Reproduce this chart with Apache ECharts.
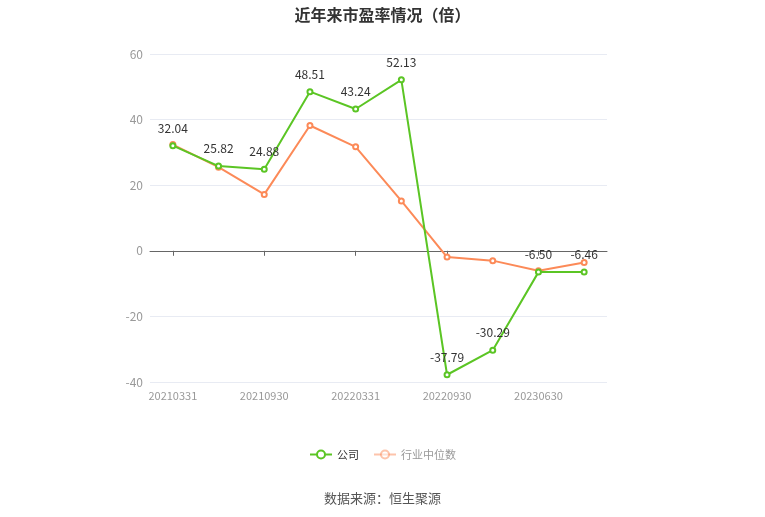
<!DOCTYPE html>
<html>
<head>
<meta charset="utf-8">
<script src="https://cdn.jsdelivr.net/npm/echarts@6/dist/echarts.min.js"></script>
<style>
  html, body { margin: 0; padding: 0; background: #fff; }
  #main { width: 765px; height: 517px; }
</style>
</head>
<body>
<div id="main"></div>
<script>
// 报告期
const dates = ['20210331', '20210630', '20210930', '20211231', '20220331',
  '20220630', '20220930', '20221231', '20230630', '20230930'];
// 公司市盈率
const companyPE = [32.04, 25.82, 24.88, 48.51, 43.24, 52.13, -37.79, -30.29, -6.50, -6.46];
// 行业中位数（图上估读）
const industryPE = [32.4, 25.5, 17.2, 38.2, 31.7, 15.2, -1.9, -3.0, -6.1, -3.6];
const yTicks = [-40, -20, 0, 20, 40, 60];

const chart = echarts.init(document.getElementById('main'));
const green = '#5bc524';
const orange = '#fc8a58';
const font = '"Noto Sans CJK SC", "Noto Sans", sans-serif';

chart.setOption({
  animation: false,
  textStyle: { fontFamily: font },
  title: [{
    text: '近年来市盈率情况（倍）',
    left: 'center',
    top: 2,
    textStyle: { fontSize: 16, fontWeight: 'bold', color: '#333', fontFamily: font }
  }, {
    text: '数据来源：恒生聚源',
    left: 'center',
    top: 487,
    textStyle: { fontSize: 13, fontWeight: 'normal', color: '#555', fontFamily: font }
  }],
  legend: {
    bottom: 52,
    left: 'center',
    itemWidth: 22,
    itemHeight: 10,
    itemGap: 14,
    textStyle: { fontSize: 11, color: '#333' },
    data: [
      { name: '公司' },
      {
        name: '行业中位数',
        textStyle: { color: '#999' },
        itemStyle: { opacity: 0.5 },
        lineStyle: { opacity: 0.5 }
      }
    ]
  },
  grid: { left: 150, right: 158, top: 54, bottom: 135 },
  xAxis: [{
    type: 'category',
    data: dates,
    axisLine: { onZero: true, lineStyle: { color: '#666' } },
    axisTick: { show: true, alignWithLabel: true, interval: 1, length: 5, lineStyle: { color: '#666' } },
    axisLabel: { show: true, interval: 1, color: 'rgba(0,0,0,0)', fontSize: 1 }
  }, {
    type: 'category',
    data: dates,
    position: 'bottom',
    axisLine: { show: false },
    axisTick: { show: false },
    axisLabel: { interval: 1, color: '#999', fontSize: 11, margin: 8 }
  }],
  yAxis: {
    type: 'value',
    min: yTicks[0],
    max: yTicks[yTicks.length - 1],
    interval: 20,
    axisLine: { show: false },
    axisTick: { show: false },
    axisLabel: { color: '#999', fontSize: 12, margin: 7 },
    splitLine: { lineStyle: { color: '#e8ebf3' } }
  },
  series: [{
    name: '公司',
    type: 'line',
    data: companyPE,
    color: green,
    symbol: 'emptyCircle',
    symbolSize: 5,
    lineStyle: { width: 2, color: green },
    itemStyle: { color: green, borderWidth: 1.5 },
    label: {
      show: true,
      position: 'top',
      color: '#333',
      fontSize: 12,
      distance: 8,
      formatter: p => p.value.toFixed(2)
    },
    z: 3
  }, {
    name: '行业中位数',
    type: 'line',
    data: industryPE,
    color: orange,
    symbol: 'emptyCircle',
    symbolSize: 5,
    lineStyle: { width: 2, color: orange },
    itemStyle: { color: orange, borderWidth: 1.5 },
    z: 2
  }]
});
</script>
</body>
</html>
